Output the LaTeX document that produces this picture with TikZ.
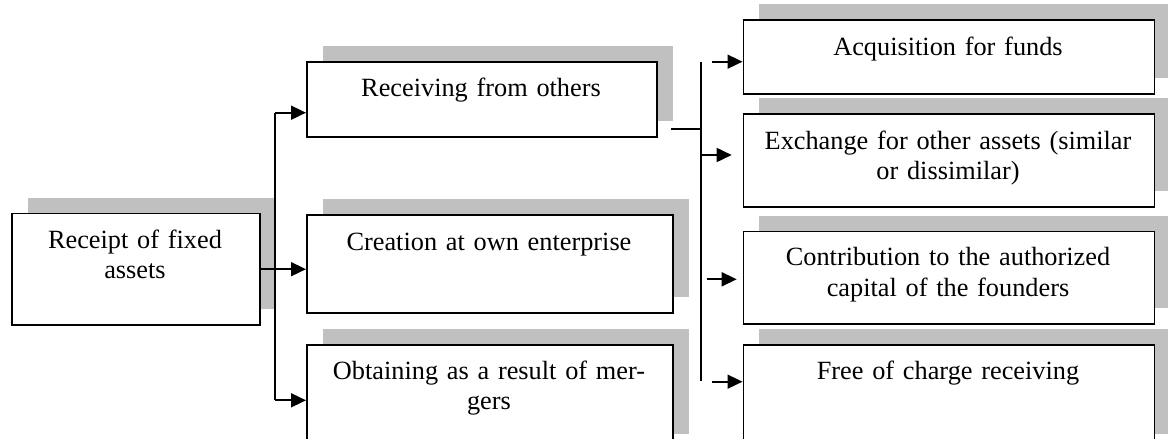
\documentclass[tikz,border=0pt]{standalone}
\usepackage{fontspec}
\setmainfont[WordSpace=0.8]{Liberation Serif}
\usetikzlibrary{arrows.meta,shadows}
\definecolor{shadowgray}{RGB}{192,192,192}
\begin{document}
\begin{tikzpicture}[x=1pt,y=-1pt,
  box/.style={draw, line width=1.7pt, fill=white, rectangle, inner sep=0pt,
    anchor=north west,
    general shadow={fill=shadowgray, shadow xshift=16pt, shadow yshift=16pt}},
  txt/.style={font=\fontsize{26.3}{30.3}\selectfont, align=center,
    anchor=base, inner sep=0pt, text width=#1},
  txt/.default=340pt,
  link/.style={line width=1.7pt},
  arr/.style={line width=1.7pt, -{Triangle[length=15pt,width=14pt]}}]
\useasboundingbox (0,0) rectangle (1168,439);
\clip (0,0) rectangle (1168,439);

% boxes: top-left corner, size
\node[box, minimum width=248pt, minimum height=111.3pt] (rcpt)  at (11,212.7) {};
\node[box, minimum width=350pt, minimum height=75pt]    (recv)  at (306,61) {};
\node[box, minimum width=366pt, minimum height=98.3pt]  (crea)  at (306,214) {};
\node[box, minimum width=366pt, minimum height=105pt]   (merg)  at (306,344.3) {};
\node[box, minimum width=411pt, minimum height=74pt]    (acq)   at (742.5,19) {};
\node[box, minimum width=411pt, minimum height=92.7pt]  (exch)  at (742.5,113.3) {};
\node[box, minimum width=411pt, minimum height=92.6pt]  (contr) at (742.5,230.7) {};
\node[box, minimum width=411pt, minimum height=105pt]   (free)  at (742.5,344.3) {};

% box texts
\node[txt=230pt] (rcpt-t)  at (135,248.3) {Receipt of fixed\\assets};
\node[txt]       (recv-t)  at (481,96.7)  {Receiving from others};
\node[txt]       (crea-t)  at (489,250)   {Creation at own enterprise};
\node[txt]       (merg-t)  at (489,379.5) {Obtaining as a result of mer-\\gers};
\node[txt=400pt] (acq-t)   at (948,55)    {Acquisition for funds};
\node[txt=400pt] (exch-t)  at (948,149)   {Exchange for other assets (similar\\or dissimilar)};
\node[txt=400pt] (contr-t) at (948,265.7) {Contribution to the authorized\\capital of the founders};
\node[txt=400pt] (free-t)  at (948,379.5) {Free of charge receiving};

% first branching
\coordinate (bus1top) at (275,112.7);
\coordinate (bus1bot) at (275,400.3);
\draw[link] (bus1top) -- (bus1bot);
\draw[arr] (bus1top) -- (bus1top -| recv.west);
\draw[arr] (rcpt.east) -- (rcpt.east -| crea.west);
\draw[arr] (bus1bot) -- (bus1bot -| merg.west);

% second branching
\coordinate (recvout) at (671,129);
\coordinate (bus2top) at (701,61.7);
\coordinate (bus2bot) at (701,381);
\draw[link] (bus2top) -- (bus2bot);
\draw[link] (recvout) -- (recvout -| bus2top);
\coordinate (a1) at (712,61.7);
\coordinate (a2) at (701,155);
\coordinate (a2e) at (731.7,155);
\coordinate (a3) at (706.7,279.3);
\coordinate (a3e) at (736.7,279.3);
\coordinate (a4) at (712,381.7);
\draw[arr] (a1) -- (a1 -| acq.west);
\draw[arr] (a2) -- (a2e);
\draw[arr] (a3) -- (a3e);
\draw[arr] (a4) -- (a4 -| free.west);
\end{tikzpicture}
\end{document}
